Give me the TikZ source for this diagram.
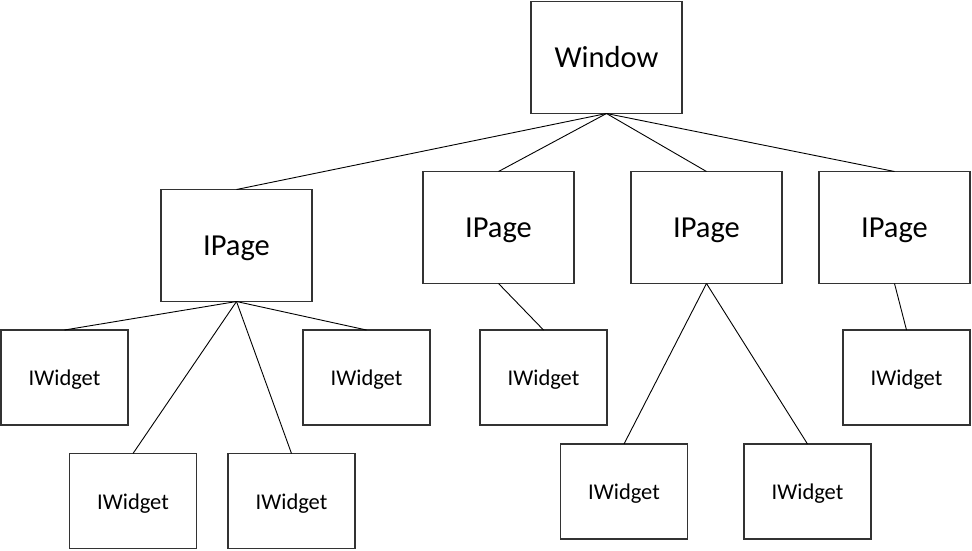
\documentclass[tikz,border=0pt]{standalone}
\usepackage{fontspec}
\setmainfont{Carlito}
\newcommand{\lowertext}[2]{\raisebox{-#1}[\height][\depth]{#2}}
\begin{document}
\begin{tikzpicture}[x=1pt,y=-1pt,
  box/.style={draw=black!80,line width=1.2pt,rectangle,outer sep=0pt,inner sep=0pt,fill=white},
  bigbox/.style={box,minimum width=151pt,minimum height=112pt,font=\fontsize{30.5}{36}\selectfont},
  smallbox/.style={box,minimum width=127pt,minimum height=95pt,font=\fontsize{22.5}{27}\selectfont},
  link/.style={draw=black,line width=0.9pt}]
\useasboundingbox (0,0) rectangle (972,550);
\node[bigbox] (win) at (606.5,57.5) {Window};
\node[bigbox] (p1) at (236.5,245.5) {\lowertext{3pt}{IPage}};
\node[bigbox] (p2) at (498.5,227.5) {\lowertext{3pt}{IPage}};
\node[bigbox] (p3) at (706.5,227.5) {\lowertext{3pt}{IPage}};
\node[bigbox] (p4) at (894.5,227.5) {\lowertext{3pt}{IPage}};
\node[smallbox] (w1) at (64.5,377.5) {\lowertext{2.5pt}{IWidget}};
\node[smallbox] (w2) at (133,501) {\lowertext{2.5pt}{IWidget}};
\node[smallbox] (w3) at (291.5,501) {\lowertext{2.5pt}{IWidget}};
\node[smallbox] (w4) at (366.5,377.5) {\lowertext{2.5pt}{IWidget}};
\node[smallbox] (w5) at (543.5,377.5) {\lowertext{2.5pt}{IWidget}};
\node[smallbox] (w6) at (624,491.5) {\lowertext{2.5pt}{IWidget}};
\node[smallbox] (w7) at (807.5,491.5) {\lowertext{2.5pt}{IWidget}};
\node[smallbox] (w8) at (906.5,377.5) {\lowertext{2.5pt}{IWidget}};
\draw[link] (win.south) -- (p1.north);
\draw[link] (win.south) -- (p2.north);
\draw[link] (win.south) -- (p3.north);
\draw[link] (win.south) -- (p4.north);
\draw[link] (p1.south) -- (w1.north);
\draw[link] (p1.south) -- (w2.north);
\draw[link] (p1.south) -- (w3.north);
\draw[link] (p1.south) -- (w4.north);
\draw[link] (p2.south) -- (w5.north);
\draw[link] (p3.south) -- (w6.north);
\draw[link] (p3.south) -- (w7.north);
\draw[link] (p4.south) -- (w8.north);
\end{tikzpicture}
\end{document}
